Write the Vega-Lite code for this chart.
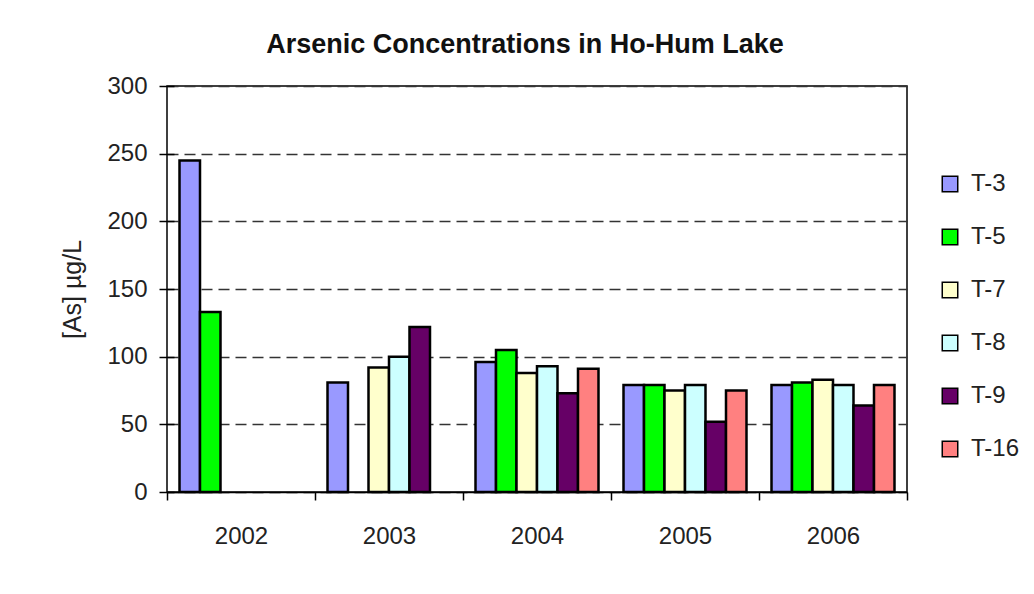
{
  "$schema": "https://vega.github.io/schema/vega-lite/v6.json",
  "autosize": "none",
  "width": 740,
  "height": 406,
  "padding": {"left": 167, "top": 86, "right": 127, "bottom": 102},
  "background": "white",
  "title": {
    "text": "Arsenic Concentrations in Ho-Hum Lake",
    "font": "Liberation Sans",
    "fontSize": 27,
    "fontWeight": "bold",
    "color": "#111",
    "anchor": "middle",
    "dx": -12,
    "frame": "group",
    "offset": 15
  },
  "data": {
    "values": [
      {"year": "2002", "site": "T-3", "as": 245},
      {"year": "2002", "site": "T-5", "as": 133},
      {"year": "2003", "site": "T-3", "as": 81},
      {"year": "2003", "site": "T-7", "as": 92},
      {"year": "2003", "site": "T-8", "as": 100},
      {"year": "2003", "site": "T-9", "as": 122},
      {"year": "2004", "site": "T-3", "as": 96},
      {"year": "2004", "site": "T-5", "as": 105},
      {"year": "2004", "site": "T-7", "as": 88},
      {"year": "2004", "site": "T-8", "as": 93},
      {"year": "2004", "site": "T-9", "as": 73},
      {"year": "2004", "site": "T-16", "as": 91},
      {"year": "2005", "site": "T-3", "as": 79},
      {"year": "2005", "site": "T-5", "as": 79},
      {"year": "2005", "site": "T-7", "as": 75},
      {"year": "2005", "site": "T-8", "as": 79},
      {"year": "2005", "site": "T-9", "as": 52},
      {"year": "2005", "site": "T-16", "as": 75},
      {"year": "2006", "site": "T-3", "as": 79},
      {"year": "2006", "site": "T-5", "as": 81},
      {"year": "2006", "site": "T-7", "as": 83},
      {"year": "2006", "site": "T-8", "as": 79},
      {"year": "2006", "site": "T-9", "as": 64},
      {"year": "2006", "site": "T-16", "as": 79}
    ]
  },
  "mark": {"type": "bar", "stroke": "black", "strokeWidth": 2.5, "cornerRadius": 0},
  "encoding": {
    "x": {
      "field": "year",
      "type": "nominal",
      "scale": {"paddingInner": 0, "paddingOuter": 0},
      "axis": {
        "title": null,
        "labelAngle": 0,
        "tickBand": "extent",
        "tickSize": 8,
        "tickColor": "black",
        "tickWidth": 1.5,
        "domainColor": "black",
        "domainWidth": 1.5,
        "labelFont": "Liberation Sans",
        "labelFontSize": 24,
        "labelColor": "#222",
        "labelPadding": 24,
        "grid": false
      }
    },
    "xOffset": {
      "field": "site",
      "type": "nominal",
      "sort": ["T-3", "T-5", "T-7", "T-8", "T-9", "T-16"],
      "scale": {"paddingInner": 0, "paddingOuter": 0.61}
    },
    "y": {
      "field": "as",
      "type": "quantitative",
      "scale": {"domain": [0, 300], "nice": false},
      "axis": {
        "title": "[As] µg/L",
        "titleFont": "Liberation Sans",
        "titleFontSize": 25,
        "titleFontWeight": "normal",
        "titleColor": "#222",
        "titlePadding": 21,
        "values": [0, 50, 100, 150, 200, 250, 300],
        "offset": -7,
        "domain": false,
        "tickSize": 15,
        "tickColor": "black",
        "tickWidth": 1.5,
        "labelFont": "Liberation Sans",
        "labelFontSize": 24,
        "labelColor": "#222",
        "labelPadding": 12,
        "grid": true,
        "gridColor": "#333",
        "gridWidth": 1.5,
        "gridDash": [11, 6]
      }
    },
    "color": {
      "field": "site",
      "type": "nominal",
      "sort": ["T-3", "T-5", "T-7", "T-8", "T-9", "T-16"],
      "scale": {
        "domain": ["T-3", "T-5", "T-7", "T-8", "T-9", "T-16"],
        "range": ["#9999FF", "#00FF00", "#FFFFCC", "#CCFFFF", "#660066", "#FF8080"]
      },
      "legend": {
        "title": null,
        "orient": "none",
        "legendX": 771,
        "legendY": 86,
        "symbolType": "square",
        "symbolSize": 240,
        "symbolStrokeColor": "black",
        "symbolStrokeWidth": 1.5,
        "symbolOpacity": 1,
        "labelFont": "Liberation Sans",
        "labelFontSize": 24,
        "labelColor": "#222",
        "labelOffset": 9,
        "rowPadding": 29
      }
    }
  },
  "config": {
    "view": {"stroke": "black", "strokeWidth": 1.5}
  }
}
